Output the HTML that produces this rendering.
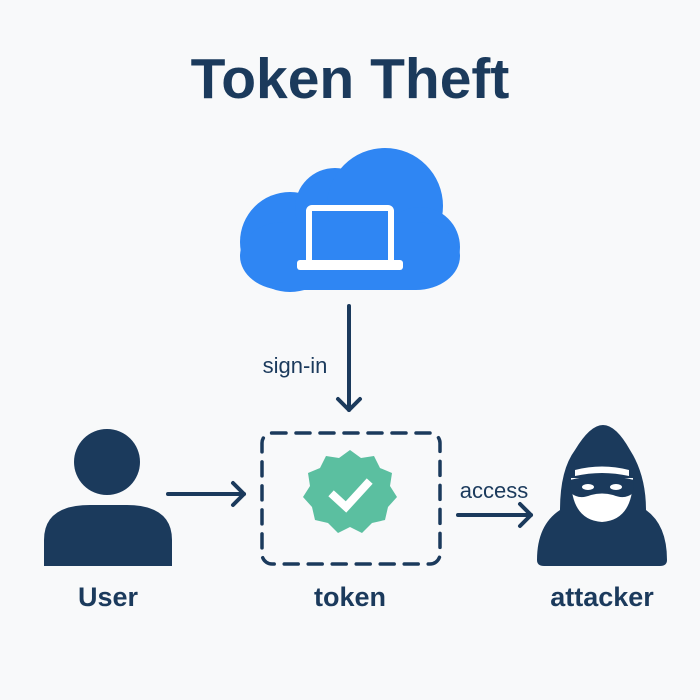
<!DOCTYPE html>
<html><head><style>
body{margin:0;background:#f8f9fa;}
svg{display:block}
text{font-family:"Liberation Sans",sans-serif;fill:#1b3a5c}
</style></head><body>
<svg width="700" height="700" viewBox="0 0 700 700">
<rect width="700" height="700" fill="#f8f9fa"/>
<text x="350" y="98" text-anchor="middle" font-size="57" font-weight="bold">Token Theft</text>
<!-- cloud -->
<g fill="#2f86f3">
<circle cx="290" cy="242" r="50"/>
<circle cx="335" cy="208" r="40"/>
<circle cx="385" cy="206" r="58"/>
<circle cx="420" cy="247" r="40"/>
<rect x="240" y="222" width="220" height="68" rx="44"/>
</g>
<rect x="309" y="208" width="82" height="55" fill="none" stroke="#fff" stroke-width="6" rx="3"/>
<rect x="297" y="260" width="106" height="10" rx="3" fill="#fff"/>
<g stroke="#1b3a5c" stroke-width="4" fill="none" stroke-linecap="round" stroke-linejoin="round">
<line x1="349" y1="306" x2="349" y2="410"/>
<polyline points="338,399 349,410 360,399"/>
<line x1="168" y1="494" x2="244" y2="494"/>
<polyline points="233,483 244,494 233,505"/>
<line x1="458" y1="515" x2="531" y2="515"/>
<polyline points="520,504 531,515 520,526"/>
<rect x="262" y="433" width="178" height="131" rx="10" stroke-dasharray="14,10" stroke-width="3.5"/>
</g>
<text x="295" y="373" text-anchor="middle" font-size="22">sign-in</text>
<text x="494" y="498" text-anchor="middle" font-size="22">access</text>
<polygon fill="#5bbfa0" points="350,455 361,463 374,461 380,473 392,478 390,491 397,502 388,512 385,525 372,528 362,538 350,532 338,538 328,528 315,525 312,512 303,502 310,491 308,478 320,473 326,461 339,463" transform="translate(0,-5)"/>
<polyline points="334,496 346,507 367,484" fill="none" stroke="#fff" stroke-width="8" stroke-linecap="square"/>
<g fill="#1b3a5c">
<circle cx="107" cy="462" r="33"/>
<path d="M44,566 L44,540 Q44,505 90,505 L126,505 Q172,505 172,540 L172,566 Z"/>
<path d="M537,560 Q537,525 560,510 Q560,470 575,450 Q590,425 603,425 Q616,425 630,450 Q646,475 646,510 Q667,525 667,560 Q667,566 660,566 L544,566 Q537,566 537,560 Z"/>
</g>
<path d="M571,478 L633,478 Q633,520 602,522 Q571,520 571,478 Z" fill="#fff"/>
<path d="M575,470 Q602,463 629,470 L629,476 Q602,470 575,476 Z" fill="#fff"/>
<path d="M570,480 Q602,472 634,480 L633,493 Q625,500 613,495 Q602,492 591,495 Q579,500 571,493 Z" fill="#1b3a5c"/>
<ellipse cx="588" cy="487" rx="6" ry="3" fill="#fff"/>
<ellipse cx="616" cy="487" rx="6" ry="3" fill="#fff"/>
<text x="108" y="606" text-anchor="middle" font-size="27" font-weight="bold">User</text>
<text x="350" y="606" text-anchor="middle" font-size="27" font-weight="bold">token</text>
<text x="602" y="606" text-anchor="middle" font-size="27" font-weight="bold">attacker</text>
</svg>
</body></html>
